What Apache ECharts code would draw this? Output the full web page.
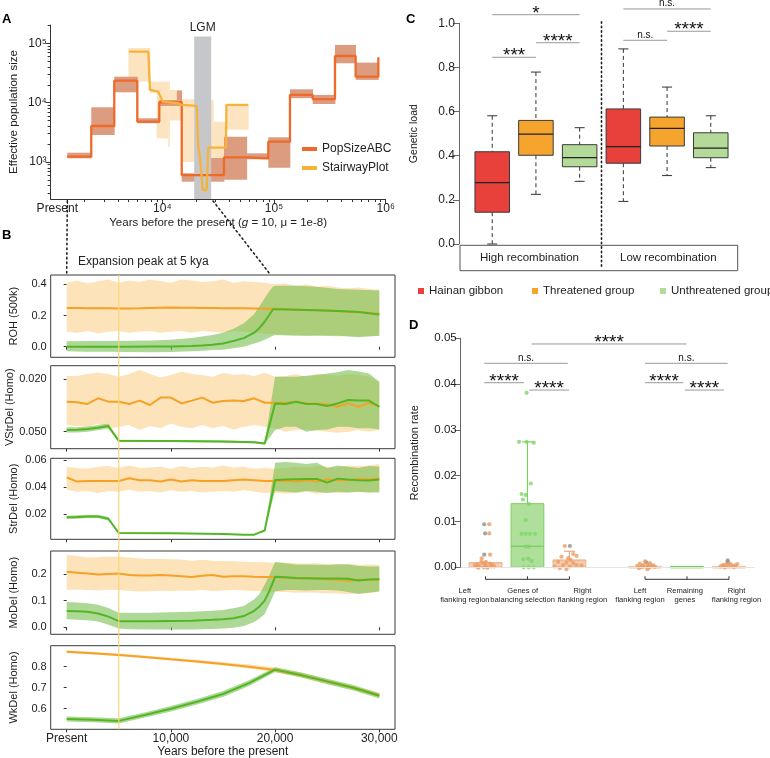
<!DOCTYPE html>
<html><head><meta charset="utf-8">
<script src="https://cdn.jsdelivr.net/npm/echarts@6/dist/echarts.min.js"></script>
<style>html,body{margin:0;padding:0;background:#fff}#c{width:770px;height:758px}</style>
</head><body><div id="c"></div><script>
const FONT = "'Liberation Sans', Arial, Helvetica, sans-serif";
const L = Math.log10;

// ================= Panel A data =================
const popBounds = [1411, 2312, 3715, 5973, 9400, 14920, 35650, 57000, 88900, 139000, 222000, 351600, 538000, 859000];
const popValues = [1228, 4047, 23500, 4790, 10160, 603, 1200, 1150, 2200, 13500, 11500, 61200, 27400];
const popEndValue = 58000;
const popBandStart = [1411, 2312, 3715, 5973, 9400, 13500, 14920, 23000, 35650, 57000, 88900, 139000, 222000, 351600, 538000];
const popBandEnd   = [2312, 3715, 5973, 9400, 13500, 14920, 23000, 35650, 57000, 88900, 139000, 222000, 351600, 538000, 859000];
const popBandLow   = [1154, 2850, 14960, 4500, 8790, 8790, 466, 466, 500, 1110, 800, 11900, 9500, 46100, 24200];
const popBandHigh  = [1435, 8360, 27400, 5460, 11100, 16000, 646, 1170, 2670, 1400, 2610, 16800, 13500, 94000, 47300];

const stairYears = [5035, 7500, 7760, 9210, 10080, 13900, 14920, 20330, 21000, 21700, 23000, 24950, 25800, 37150, 37500, 58900];
const stairNe    = [72500, 72500, 16370, 15350, 10400, 9780, 9150, 8800, 1811, 1228, 337, 337, 1741, 1741, 9150, 9150];
const stairBandStart = [4970, 7760, 8900, 11300, 11600, 14920, 20330, 28600, 37500];
const stairBandEnd   = [7760, 8900, 11300, 11600, 14920, 20330, 28600, 37500, 58900];
const stairBandLow   = [22600, 14500, 2500, 1810, 5000, 1000, 950, 960, 3500];
const stairBandHigh  = [83600, 22600, 22600, 22600, 16370, 11400, 10950, 4780, 9150];

const lgmRange = [19300, 27400];
const lgmTop = 130000;
const aXTicks = [1411, 1e4, 1e5, 1e6];
const aXMinor = [2000,3000,4000,5000,6000,7000,8000,9000,20000,30000,40000,50000,60000,70000,80000,90000,200000,300000,400000,500000,600000,700000,800000,900000];
const aYTicks = [1e3, 1e4, 1e5];
const aYMinor = [300,400,500,600,700,800,900,2000,3000,4000,5000,6000,7000,8000,9000,20000,30000,40000,50000,60000,70000,80000,90000,200000];

// ================= Panel B data =================
const bYears = [0,1000,2000,3000,4000,5000,6000,7000,8000,9000,10000,11000,12000,13000,14000,15000,16000,17000,18000,19000,20000,21000,22000,23000,24000,25000,26000,27000,28000,29000,30000];
const expansionPeak = 5000;

const rohOrange = [0.248,0.248,0.247,0.246,0.246,0.245,0.245,0.246,0.248,0.25,0.252,0.25,0.249,0.248,0.248,0.247,0.247,0.246,0.245,0.244,0.243,0.241,0.239,0.236,0.234,0.232,0.229,0.226,0.222,0.217,0.212];
const rohOrangeHi = [0.41,0.425,0.405,0.42,0.43,0.41,0.425,0.415,0.43,0.42,0.41,0.43,0.425,0.415,0.42,0.43,0.41,0.42,0.415,0.41,0.40,0.405,0.39,0.40,0.385,0.39,0.38,0.375,0.38,0.37,0.365];
const rohOrangeLo = [0.095,0.09,0.1,0.085,0.095,0.1,0.09,0.095,0.1,0.09,0.095,0.1,0.09,0.1,0.095,0.09,0.1,0.095,0.09,0.085,0.08,0.075,0.08,0.07,0.075,0.07,0.065,0.07,0.065,0.07,0.068];
const rohGreenYears = [0,2000,4000,6000,8000,10000,12000,13000,14000,15000,16000,17000,18000,18500,19000,19500,19800,20000,22000,24000,26000,28000,30000];
const rohGreen   = [0.0,0.0,0.0,0.0,0.001,0.002,0.004,0.008,0.013,0.021,0.036,0.055,0.09,0.12,0.16,0.21,0.24,0.24,0.237,0.234,0.229,0.222,0.207];
const rohGreenHi = [0.035,0.036,0.037,0.038,0.04,0.045,0.055,0.065,0.075,0.09,0.115,0.15,0.21,0.26,0.31,0.36,0.385,0.39,0.39,0.385,0.37,0.365,0.36];
const rohGreenLo = [-0.03,-0.032,-0.033,-0.034,-0.035,-0.034,-0.03,-0.026,-0.022,-0.02,-0.01,0.0,0.02,0.03,0.045,0.06,0.07,0.075,0.07,0.07,0.07,0.06,0.07];

const vsOrange = [0.0329,0.0333,0.0342,0.0310,0.0329,0.0329,0.0342,0.0323,0.0348,0.0306,0.0306,0.0339,0.0323,0.0306,0.0335,0.0325,0.0323,0.0325,0.0310,0.0335,0.0335,0.0335,0.0329,0.0339,0.0339,0.0344,0.0358,0.0339,0.0358,0.0335,0.0354];
const vsOrangeHi = [0.0183,0.0183,0.0172,0.0164,0.0172,0.0187,0.0172,0.0149,0.0172,0.0191,0.0177,0.0158,0.0172,0.0177,0.0187,0.0164,0.0177,0.0172,0.0183,0.0164,0.0187,0.0183,0.0172,0.0187,0.0168,0.0177,0.0183,0.0172,0.0177,0.0187,0.0215];
const vsOrangeLo = [0.0462,0.0468,0.0472,0.0453,0.0481,0.0472,0.0462,0.0491,0.0468,0.0481,0.0453,0.0472,0.0481,0.0462,0.0481,0.0468,0.0487,0.0472,0.0462,0.0472,0.0481,0.0500,0.0491,0.0487,0.0495,0.0500,0.0506,0.0500,0.0491,0.0500,0.0491];
const vsGreenYears = [0,1000,2000,3000,4000,5000,10000,15000,18000,19000,20000,21000,22000,23000,24000,25000,26000,27000,28000,29000,30000];
const vsGreen   = [0.0490,0.0489,0.0485,0.0477,0.0468,0.0552,0.0553,0.0556,0.0560,0.0567,0.0339,0.0342,0.0329,0.0342,0.0342,0.0354,0.0339,0.0320,0.0323,0.0323,0.0358];
const vsGreenHi = [0.0475,0.0474,0.0470,0.0462,0.0455,0.0546,0.0547,0.0550,0.0554,0.0561,0.0187,0.0187,0.0187,0.0181,0.0177,0.0168,0.0162,0.0149,0.0158,0.0168,0.0215];
const vsGreenLo = [0.0505,0.0504,0.0500,0.0492,0.0482,0.0558,0.0559,0.0562,0.0566,0.0573,0.0491,0.0472,0.0472,0.0500,0.0491,0.0487,0.0472,0.0472,0.0481,0.0481,0.0487];

const sdOrange = [0.047,0.044,0.0445,0.0445,0.0445,0.0445,0.0465,0.045,0.045,0.044,0.0455,0.044,0.045,0.0445,0.0445,0.0445,0.045,0.0455,0.045,0.0445,0.0445,0.0445,0.044,0.045,0.044,0.0455,0.045,0.045,0.046,0.0455,0.0465];
const sdOrangeHi = [0.055,0.054,0.0535,0.055,0.0555,0.054,0.056,0.054,0.0545,0.055,0.0535,0.0555,0.054,0.055,0.0545,0.056,0.0545,0.055,0.0535,0.054,0.0535,0.054,0.055,0.0545,0.0555,0.055,0.0545,0.056,0.0555,0.056,0.057];
const sdOrangeLo = [0.038,0.0365,0.037,0.0355,0.037,0.0365,0.038,0.0365,0.037,0.036,0.0375,0.0365,0.037,0.036,0.0365,0.037,0.0365,0.0375,0.0365,0.0355,0.036,0.035,0.0355,0.0365,0.035,0.036,0.0355,0.036,0.0365,0.036,0.037];
const sdGreenYears = [0,1000,2000,3000,4000,5000,10000,15000,17000,18000,19000,20000,21000,22000,23000,24000,25000,26000,27000,28000,29000,30000];
const sdGreen   = [0.0175,0.0177,0.0182,0.0182,0.0165,0.0059,0.0058,0.0052,0.0047,0.0047,0.0078,0.0452,0.0455,0.0458,0.046,0.046,0.0432,0.0462,0.0455,0.045,0.0448,0.0455];
const sdGreenHi = [0.0187,0.019,0.0195,0.0195,0.0178,0.0062,0.0061,0.0055,0.005,0.005,0.0081,0.058,0.0585,0.058,0.057,0.058,0.054,0.056,0.055,0.054,0.0555,0.055];
const sdGreenLo = [0.0163,0.0165,0.017,0.017,0.0152,0.0056,0.0055,0.0049,0.0044,0.0044,0.0075,0.037,0.0365,0.036,0.037,0.0365,0.0355,0.0365,0.036,0.0365,0.036,0.036];

const mdOrange = [0.208,0.205,0.202,0.198,0.2,0.202,0.196,0.194,0.194,0.196,0.194,0.192,0.189,0.193,0.196,0.19,0.192,0.192,0.19,0.189,0.189,0.186,0.184,0.183,0.183,0.18,0.178,0.175,0.178,0.178,0.178];
const mdOrangeHi = [0.271,0.268,0.262,0.263,0.266,0.265,0.262,0.258,0.256,0.257,0.255,0.254,0.25,0.253,0.25,0.249,0.248,0.246,0.245,0.244,0.242,0.243,0.24,0.238,0.24,0.237,0.236,0.238,0.235,0.236,0.235];
const mdOrangeLo = [0.14,0.142,0.14,0.138,0.141,0.14,0.136,0.134,0.135,0.137,0.136,0.138,0.137,0.14,0.136,0.138,0.14,0.138,0.136,0.135,0.133,0.132,0.13,0.131,0.13,0.128,0.127,0.125,0.128,0.13,0.132];
const mdGreenYears = [0,1000,2000,3000,4000,5000,6000,8000,10000,12000,14000,15000,16000,17000,18000,18500,19000,19500,20000,21000,22000,23000,24000,25000,26000,27000,28000,29000,30000];
const mdGreen   = [0.061,0.06,0.058,0.052,0.04,0.023,0.023,0.023,0.024,0.025,0.028,0.03,0.034,0.042,0.062,0.078,0.1,0.14,0.19,0.188,0.185,0.184,0.183,0.183,0.183,0.182,0.176,0.179,0.18];
const mdGreenHi = [0.095,0.093,0.09,0.085,0.072,0.055,0.055,0.055,0.056,0.058,0.062,0.065,0.071,0.08,0.105,0.125,0.16,0.2,0.245,0.24,0.235,0.236,0.235,0.234,0.237,0.236,0.23,0.228,0.228];
const mdGreenLo = [0.03,0.028,0.026,0.022,0.01,-0.005,-0.007,-0.008,-0.008,-0.008,-0.006,-0.005,-0.002,0.005,0.02,0.033,0.05,0.09,0.135,0.14,0.14,0.138,0.14,0.14,0.138,0.132,0.125,0.13,0.135];

const wkYears = [0,2500,5000,7500,10000,12500,15000,17500,20000,22500,25000,27500,30000];
const wkOrange   = [0.871,0.864,0.856,0.846,0.835,0.825,0.813,0.8,0.784,0.759,0.729,0.7,0.665];
const wkOrangeHi = [0.878,0.871,0.863,0.853,0.843,0.833,0.822,0.81,0.797,0.772,0.74,0.709,0.672];
const wkOrangeLo = [0.865,0.858,0.85,0.84,0.829,0.818,0.806,0.792,0.774,0.75,0.72,0.69,0.656];
const wkGreen   = [0.551,0.547,0.542,0.57,0.60,0.633,0.67,0.722,0.786,0.76,0.73,0.70,0.662];
const wkGreenHi = [0.563,0.559,0.554,0.582,0.613,0.646,0.684,0.736,0.797,0.772,0.743,0.713,0.675];
const wkGreenLo = [0.539,0.535,0.53,0.558,0.587,0.62,0.656,0.708,0.775,0.748,0.717,0.687,0.649];

// ================= Panel C data =================
const cGroups = ['Hainan gibbon', 'Threatened group', 'Unthreatened group'];
const cCategories = ['High recombination', 'Low recombination'];
const cPos = [1, 2, 3, 4, 5, 6];
const cGroupOf = [0, 1, 2, 0, 1, 2];
const cMin = [0.0, 0.225, 0.284, 0.193, 0.31, 0.346];
const cQ1  = [0.144, 0.402, 0.35, 0.366, 0.444, 0.391];
const cMed = [0.278, 0.498, 0.391, 0.441, 0.524, 0.434];
const cQ3  = [0.418, 0.56, 0.45, 0.612, 0.575, 0.504];
const cMax = [0.581, 0.779, 0.527, 0.884, 0.711, 0.581];
const cSeparator = 3.5;
const cBrX1 = [1, 2, 1, 4, 5, 4];
const cBrX2 = [2, 3, 3, 5, 6, 6];
const cBrY  = [0.846, 0.912, 1.039, 0.923, 0.964, 1.065];
const cBrLabel = ['***', '****', '*', 'n.s.', '****', 'n.s.'];

// ================= Panel D data =================
const dLabels = ['Left\nflanking region', 'Genes of\nbalancing selection', 'Right\nflanking region', 'Left\nflanking region', 'Remaining\ngenes', 'Right\nflanking region'];
const dPos  = [1, 2, 3, 4.8, 5.8, 6.8];
const dKind = [0, 1, 0, 0, 1, 0];
const dLow  = [0, 0, 0, 0, 0, 0];
const dQ1   = [0, 0, 0, 0, 0, 0];
const dMed  = [0.0004, 0.0046, 0.0007, 0.0001, 0.0001, 0.0001];
const dQ3   = [0.001, 0.0139, 0.0016, 0.0002, 0.0002, 0.0002];
const dHigh = [0.001, 0.0274, 0.0035, 0.0002, 0.0002, 0.0002];
const dGroupLines = [[1, 3], [4.8, 6.8]];
const dOrangePts = [[1.09,0.0094],[1.09,0.0074],[1.11,0.00275],[0.91,0.00196],[0.9,0.0012],[0.75,0.00044],[0.81,0.0007],[0.86,0.0002],[0.94,0.00096],[0.99,0.0006],[1.03,0.0002],[1.11,0.0008],[1.17,0.0005],[1.21,0.0002],[0.83,-0.0001],[0.96,0.0],[1.05,-0.0001],[1.14,0.0002],[0.78,0.0002],[1.01,0.0012],
  [2.89,0.00465],[3.09,0.0029],[3.17,0.0025],[2.81,0.0023],[2.97,0.002],[3.03,0.0016],[2.73,0.0012],[2.93,0.001],[3.09,0.0009],[2.85,0.0005],[2.65,0.0002],[3.01,0.0002],[3.17,0.0005],[2.93,-0.0004],[3.29,0.0004],[2.77,-0.0002],
  [4.62,0.0003],[4.68,0.0008],[4.72,0.0001],[4.76,0.0005],[4.8,0.0013],[4.84,0.0002],[4.88,0.0006],[4.92,0.0009],[4.96,0.0003],[5.0,0.0004],[4.66,-0.0002],[4.86,-0.0004],[4.74,0.0002],[4.9,0.0],[5.04,0.0001],
  [6.6,0.0002],[6.65,0.0004],[6.7,0.0],[6.74,0.0006],[6.78,0.0003],[6.82,0.0008],[6.86,0.0005],[6.9,0.0002],[6.95,0.0004],[7.0,0.0007],[6.68,0.0005],[6.92,0.0001]];
const dGrayPts = [[0.97,0.0094],[0.99,0.0074],[0.97,0.00275],[3.01,0.00465],[4.83,0.0011],[6.77,0.0015],[6.77,0.0011]];
const dGreenPts = [[1.98,0.0381],[1.8,0.0274],[2.15,0.0272],[1.98,0.0274],[2.08,0.0183],[1.86,0.016],[1.96,0.0158],[1.89,0.0148],[2.04,0.0138],[1.96,0.0103],[1.86,0.0073],[1.96,0.0073],[2.06,0.0073],[2.18,0.0073],[1.96,0.0045],[2.03,0.0045],[1.9,0.00175],[2.02,0.0019],[2.1,0.0014],[1.91,0.0],[2.03,0.0],[2.15,0.0]];
const dBrX1 = [2.1, 0.97, 0.97, 2.04, 4.8, 4.8, 5.75];
const dBrX2 = [5.79, 2.96, 1.92, 2.99, 6.77, 5.71, 6.68];
const dBrY  = [0.04876, 0.04454, 0.0403, 0.0387, 0.04454, 0.0403, 0.0387];
const dBrLabel = ['****', 'n.s.', '****', '****', 'n.s.', '****', '****'];

// ================= layout & styles =================
const layoutDLabelX = [0.51, 1.886, 3.31, 4.68, 5.75, 6.98];
const layoutCLegendLeft = [413, 527, 655];
const COL = {
  pop: '#EE6A2A', popBand: '#DC9C80', stair: '#F7B23A', stairBand: '#FDE4C1', lgm: '#C6C7CB',
  orange: '#F5A126', orangeBand: '#FDE3B9', green: '#52B625', greenBand: 'rgba(118,190,78,0.6)',
  cCols: ['#E8413B', '#F5A52E', '#B3DA99'],
  dOrange: '#EE9C62', dGray: '#8E8E8E', dGreen: '#7FD468'
};
const GA = {left: 50.6, top: 25, width: 335.1, height: 174};
const GB_LEFT = 50.7, GB_WIDTH = 344.3;
const GB = [{top: 275, height: 82.3}, {top: 365.7, height: 83}, {top: 458.3, height: 81}, {top: 551, height: 83.3}, {top: 645.7, height: 83.6}];
const GC = {left: 459, top: 23.3, width: 278.7, height: 220.7};
const GC2 = {left: 460, top: 245.3, width: 277.7, height: 25.4};
const GD = {left: 460.7, top: 338.3, width: 294.3, height: 229};

const sup = {3: '10\u00B3', 4: '10\u2074', 5: '10\u2075', 6: '10\u2076'};
const tsty = (size, color) => ({fontFamily: FONT, fontSize: size, color: color || '#222'});

const grids = [];
const xAxes = [];
const yAxes = [];
const series = [];

// ---- Grid A ----
grids.push(Object.assign({outerBoundsMode: 'none', containLabel: false}, GA));
xAxes.push({type: 'value', gridIndex: 0, position: 'bottom', min: 3, max: 6,
  axisLine: {show: true, lineStyle: {color: '#333', width: 1}},
  axisTick: {show: true, length: 5, customValues: aXTicks.map(L), lineStyle: {color: '#333'}},
  axisLabel: {show: true, customValues: aXTicks.map(L), margin: 4, ...tsty(12),
    rich: {p: {fontFamily: FONT, fontSize: 12, color: '#222', padding: [0, 20, 0, 0]}},
    formatter: v => (Math.abs(v - Math.round(v)) < 1e-6 ? sup[Math.round(v)] : '{p|Present}')},
  splitLine: {show: false},
  name: 'Years before the present ({i|g} = 10, \u03BC = 1e-8)', nameLocation: 'middle', nameGap: 18,
  nameTextStyle: {...tsty(11.5), rich: {i: {fontStyle: 'italic', fontFamily: FONT, fontSize: 11.5, color: '#222'}}}});
xAxes.push({type: 'value', gridIndex: 0, position: 'bottom', offset: 0, min: 3, max: 6, axisLine: {show: false},
  axisTick: {show: true, length: 3, customValues: aXMinor.map(L), lineStyle: {color: '#333'}},
  axisLabel: {show: false}, splitLine: {show: false}});
yAxes.push({type: 'value', gridIndex: 0, position: 'left', min: L(238), max: L(203600),
  axisLine: {show: true, lineStyle: {color: '#333', width: 1}},
  axisTick: {show: true, length: 5, customValues: aYTicks.map(L), lineStyle: {color: '#333'}},
  axisLabel: {show: true, customValues: aYTicks.map(L), margin: 4, ...tsty(12), formatter: v => sup[Math.round(v)]},
  splitLine: {show: false},
  name: 'Effective population size', nameLocation: 'middle', nameGap: 31, nameTextStyle: tsty(11.5)});
yAxes.push({type: 'value', gridIndex: 0, position: 'left', offset: 0, min: L(238), max: L(203600), axisLine: {show: false},
  axisTick: {show: true, length: 3, customValues: aYMinor.map(L), lineStyle: {color: '#333'}},
  axisLabel: {show: false}, splitLine: {show: false}});

function stepBand(name, starts, ends, lows, highs, fill, z) {
  return {type: 'custom', name, xAxisIndex: 0, yAxisIndex: 0, z, silent: true,
    encode: {x: [0, 1], y: [2, 3]},
    data: starts.map((s, i) => [L(s), L(ends[i]), L(lows[i]), L(highs[i])]),
    renderItem(params, api) {
      const p0 = api.coord([api.value(0), api.value(3)]);
      const p1 = api.coord([api.value(1), api.value(2)]);
      return {type: 'rect', shape: {x: p0[0], y: p0[1], width: p1[0] - p0[0] + 0.4, height: p1[1] - p0[1]}, style: {fill}};
    }};
}
series.push(stepBand('stairBand', stairBandStart, stairBandEnd, stairBandLow, stairBandHigh, COL.stairBand, 1));
series.push(stepBand('popBand', popBandStart, popBandEnd, popBandLow, popBandHigh, COL.popBand, 2));
series.push({type: 'custom', xAxisIndex: 0, yAxisIndex: 0, z: 3, silent: true,
  data: [[L(lgmRange[0]), L(lgmRange[1]), L(lgmTop)]], encode: {x: [0, 1], y: 2},
  renderItem(params, api) {
    const p0 = api.coord([api.value(0), api.value(2)]);
    const p1 = api.coord([api.value(1), L(238)]);
    return {type: 'group', children: [
      {type: 'rect', shape: {x: p0[0], y: p0[1], width: p1[0] - p0[0], height: p1[1] - p0[1]}, style: {fill: COL.lgm}},
      {type: 'text', x: (p0[0] + p1[0]) / 2, y: p0[1] - 3, style: {text: 'LGM', fill: '#222', fontFamily: FONT, fontSize: 12, align: 'center', verticalAlign: 'bottom'}}
    ]};
  }});
const popLine = popBounds.map((b, i) => [L(b), L(i < popValues.length ? popValues[i] : popEndValue)]);
series.push({type: 'line', name: 'PopSizeABC', xAxisIndex: 0, yAxisIndex: 0, z: 4, step: 'end', showSymbol: false, symbol: 'none',
  data: popLine, lineStyle: {color: COL.pop, width: 2.3}, itemStyle: {color: COL.pop}, silent: true});
series.push({type: 'line', name: 'StairwayPlot', xAxisIndex: 0, yAxisIndex: 0, z: 5, showSymbol: false, symbol: 'none',
  data: stairYears.map((y, i) => [L(y), L(stairNe[i])]), lineStyle: {color: COL.stair, width: 2.3}, itemStyle: {color: COL.stair}, silent: true});

// ---- Grids B ----
const bPanels = [
  {name: 'ROH (500k)', min: -0.068, max: 0.4596, ticks: [0, 0.2, 0.4], dec: 1, inv: false,
   oX: bYears, o: rohOrange, oHi: rohOrangeHi, oLo: rohOrangeLo, gX: rohGreenYears, g: rohGreen, gHi: rohGreenHi, gLo: rohGreenLo},
  {name: 'VStrDel (Homo)', min: 0.01243, max: 0.05968, ticks: [0.02, 0.05], dec: 3, inv: true,
   oX: bYears, o: vsOrange, oHi: vsOrangeHi, oLo: vsOrangeLo, gX: vsGreenYears, g: vsGreen, gHi: vsGreenHi, gLo: vsGreenLo},
  {name: 'StrDel (Homo)', min: 0.00125, max: 0.06126, ticks: [0.02, 0.04, 0.06], dec: 2, inv: false,
   oX: bYears, o: sdOrange, oHi: sdOrangeHi, oLo: sdOrangeLo, gX: sdGreenYears, g: sdGreen, gHi: sdGreenHi, gLo: sdGreenLo},
  {name: 'MoDel (Homo)', min: -0.0263, max: 0.2863, ticks: [0, 0.1, 0.2], dec: 1, inv: false,
   oX: bYears, o: mdOrange, oHi: mdOrangeHi, oLo: mdOrangeLo, gX: mdGreenYears, g: mdGreen, gHi: mdGreenHi, gLo: mdGreenLo},
  {name: 'WkDel (Homo)', min: 0.5019, max: 0.9, ticks: [0.6, 0.7, 0.8], dec: 1, inv: false,
   oX: wkYears, o: wkOrange, oHi: wkOrangeHi, oLo: wkOrangeLo, gX: wkYears, g: wkGreen, gHi: wkGreenHi, gLo: wkGreenLo}
];
const bXTicks = [0, 10000, 20000, 30000];
function polyBand(xi, yi, xs, lo, hi, fill, z) {
  return {type: 'custom', xAxisIndex: xi, yAxisIndex: yi, z, silent: true, clip: true,
    data: [[xs[0], lo[0]]],
    renderItem(params, api) {
      const pts = [];
      for (let i = 0; i < xs.length; i++) pts.push(api.coord([xs[i], hi[i]]));
      for (let i = xs.length - 1; i >= 0; i--) pts.push(api.coord([xs[i], lo[i]]));
      return {type: 'polygon', shape: {points: pts}, style: {fill}};
    }};
}
bPanels.forEach((p, k) => {
  const gi = grids.length;
  grids.push({left: GB_LEFT, width: GB_WIDTH, top: GB[k].top, height: GB[k].height, show: true, borderColor: '#3a3a3a', borderWidth: 1,
    backgroundColor: 'transparent', outerBoundsMode: 'none', containLabel: false});
  const last = k === bPanels.length - 1;
  const xi = xAxes.length, yi = yAxes.length;
  xAxes.push({type: 'value', gridIndex: gi, position: 'bottom', min: -1535, max: 31507, axisLine: {show: false},
    axisTick: {show: true, length: 3, customValues: bXTicks, lineStyle: {color: '#333'}},
    axisLabel: {show: last, customValues: bXTicks, margin: 3, ...tsty(12),
      formatter: v => (v === 0 ? 'Present' : v.toLocaleString('en-US'))},
    splitLine: {show: false},
    name: last ? 'Years before the present' : '', nameLocation: 'middle', nameGap: 15, nameTextStyle: tsty(12)});
  yAxes.push({type: 'value', gridIndex: gi, position: 'left', min: p.min, max: p.max, inverse: p.inv, axisLine: {show: false},
    axisTick: {show: true, length: 3, customValues: p.ticks, lineStyle: {color: '#333'}},
    axisLabel: {show: true, customValues: p.ticks, margin: 4, ...tsty(11), formatter: v => v.toFixed(p.dec)},
    splitLine: {show: false},
    name: p.name, nameLocation: 'middle', nameGap: 31, nameTextStyle: tsty(11)});
  series.push(polyBand(xi, yi, p.oX, p.oLo, p.oHi, COL.orangeBand, 1));
  series.push(polyBand(xi, yi, p.gX, p.gLo, p.gHi, COL.greenBand, 2));
  series.push({type: 'line', xAxisIndex: xi, yAxisIndex: yi, z: 3, showSymbol: false, symbol: 'none', silent: true,
    data: p.oX.map((x, i) => [x, p.o[i]]), lineStyle: {color: COL.orange, width: 2}, itemStyle: {color: COL.orange}});
  series.push({type: 'line', xAxisIndex: xi, yAxisIndex: yi, z: 4, showSymbol: false, symbol: 'none', silent: true,
    data: p.gX.map((x, i) => [x, p.g[i]]), lineStyle: {color: COL.green, width: 2}, itemStyle: {color: COL.green}});
});

// ---- Grid C ----
const gC = grids.length;
grids.push(Object.assign({outerBoundsMode: 'none', containLabel: false}, GC));
const xC = xAxes.length, yC = yAxes.length;
xAxes.push({type: 'value', gridIndex: gC, min: 0.24, max: 6.616, show: false});
yAxes.push({type: 'value', gridIndex: gC, position: 'left', min: 0, max: 1, interval: 0.2,
  axisLine: {show: true, lineStyle: {color: '#666', width: 1}},
  axisTick: {show: true, length: 6, lineStyle: {color: '#666'}},
  axisLabel: {show: true, margin: 4, ...tsty(12), formatter: v => v.toFixed(1)},
  splitLine: {show: false},
  name: 'Genetic load', nameLocation: 'middle', nameGap: 39, nameTextStyle: tsty(10.5)});
const BOXW_C = 0.79;
cGroups.forEach((gname, g) => {
  const idx = cPos.map((_, i) => i).filter(i => cGroupOf[i] === g);
  series.push({type: 'custom', name: gname, xAxisIndex: xC, yAxisIndex: yC, z: 3, silent: true,
    itemStyle: {color: COL.cCols[g]},
    encode: {x: 0, y: [1, 2, 3, 4, 5]},
    data: idx.map(i => [cPos[i], cMin[i], cQ1[i], cMed[i], cQ3[i], cMax[i]]),
    renderItem(params, api) {
      const x = api.value(0);
      const pMin = api.coord([x, api.value(1)]), pQ1 = api.coord([x, api.value(2)]), pMd = api.coord([x, api.value(3)]);
      const pQ3 = api.coord([x, api.value(4)]), pMax = api.coord([x, api.value(5)]);
      const w = api.size([BOXW_C, 0])[0], cx = pMin[0], cap = 5;
      const st = {stroke: '#333', lineWidth: 1};
      return {type: 'group', children: [
        {type: 'line', shape: {x1: cx, y1: pMax[1], x2: cx, y2: pQ3[1]}, style: {...st, lineDash: [4, 3]}},
        {type: 'line', shape: {x1: cx, y1: pQ1[1], x2: cx, y2: pMin[1]}, style: {...st, lineDash: [4, 3]}},
        {type: 'line', shape: {x1: cx - cap, y1: pMax[1], x2: cx + cap, y2: pMax[1]}, style: st},
        {type: 'line', shape: {x1: cx - cap, y1: pMin[1], x2: cx + cap, y2: pMin[1]}, style: st},
        {type: 'rect', shape: {x: cx - w / 2, y: pQ3[1], width: w, height: pQ1[1] - pQ3[1]}, style: {fill: COL.cCols[g], stroke: '#3a3a3a', lineWidth: 1}},
        {type: 'line', shape: {x1: cx - w / 2, y1: pMd[1], x2: cx + w / 2, y2: pMd[1]}, style: {stroke: '#222', lineWidth: 1.2}}
      ]};
    }});
});
function bracketSeries(xi, yi, x1s, x2s, ys, labels) {
  return {type: 'custom', xAxisIndex: xi, yAxisIndex: yi, z: 5, silent: true, clip: false,
    encode: {x: [0, 1], y: 2},
    data: x1s.map((x, i) => [x, x2s[i], ys[i]]),
    renderItem(params, api) {
      const p1 = api.coord([api.value(0), api.value(2)]), p2 = api.coord([api.value(1), api.value(2)]);
      const lab = labels[params.dataIndex];
      const star = lab.indexOf('*') >= 0;
      return {type: 'group', children: [
        {type: 'line', shape: {x1: p1[0], y1: p1[1], x2: p2[0], y2: p1[1]}, style: {stroke: '#999', lineWidth: 1}},
        {type: 'text', x: (p1[0] + p2[0]) / 2, y: star ? p1[1] - 1.3 : p1[1] - 0.5,
          style: {text: lab, fill: '#111', fontFamily: FONT, fontSize: star ? 19 : 10, align: 'center', verticalAlign: star ? 'middle' : 'bottom'}}
      ]};
    }};
}
series.push(bracketSeries(xC, yC, cBrX1, cBrX2, cBrY, cBrLabel));

// ---- Grid C2 (category frame) ----
const gC2 = grids.length;
grids.push(Object.assign({show: true, borderColor: '#555', borderWidth: 1, outerBoundsMode: 'none', containLabel: false}, GC2));
xAxes.push({type: 'category', gridIndex: gC2, data: cCategories, position: 'top', axisLine: {show: false}, axisTick: {show: false},
  axisLabel: {inside: true, margin: 7, ...tsty(11.5)}});
yAxes.push({type: 'value', gridIndex: gC2, show: false});

// ---- Grid D ----
const gD = grids.length;
grids.push(Object.assign({outerBoundsMode: 'none', containLabel: false}, GD));
const xD = xAxes.length, yD = yAxes.length;
xAxes.push({type: 'value', gridIndex: gD, min: 0.41, max: 7.42, show: false});
yAxes.push({type: 'value', gridIndex: gD, position: 'left', min: 0, max: 0.05, interval: 0.01,
  axisLine: {show: true, lineStyle: {color: '#666', width: 1}},
  axisTick: {show: true, length: 6, lineStyle: {color: '#666'}},
  axisLabel: {show: true, margin: 4, ...tsty(11.5), formatter: v => v.toFixed(2)},
  splitLine: {show: false},
  name: 'Recombination rate', nameLocation: 'middle', nameGap: 40, nameTextStyle: tsty(11)});
const BOXW_D = 0.78;
const dFill = ['rgba(238,160,108,0.55)', 'rgba(125,205,95,0.62)'];
const dStroke = ['#ECA97C', '#7ED05E'];
series.push({type: 'custom', xAxisIndex: xD, yAxisIndex: yD, z: 2, silent: true, clip: false,
  encode: {x: 0, y: [1, 2, 3, 4, 5]},
  data: dPos.map((x, i) => [x, dLow[i], dQ1[i], dMed[i], dQ3[i], dHigh[i]]),
  markLine: {silent: true, symbol: 'none', label: {show: false}, lineStyle: {color: '#e4e4e4', width: 1, type: 'solid'}, data: [{yAxis: 0}]},
  renderItem(params, api) {
    const k = dKind[params.dataIndex];
    const x = api.value(0);
    const pQ1 = api.coord([x, api.value(2)]), pMd = api.coord([x, api.value(3)]);
    const pQ3 = api.coord([x, api.value(4)]), pMax = api.coord([x, api.value(5)]);
    const w = api.size([BOXW_D, 0])[0], cx = pQ1[0], cap = 5.5;
    const ch = [
      {type: 'rect', shape: {x: cx - w / 2, y: pQ3[1], width: w, height: Math.max(pQ1[1] - pQ3[1], 1.5)}, style: {fill: dFill[k], stroke: dStroke[k], lineWidth: 1}},
      {type: 'line', shape: {x1: cx - w / 2, y1: pMd[1], x2: cx + w / 2, y2: pMd[1]}, style: {stroke: k ? '#6cc64c' : '#f6d5bb', lineWidth: 1}}
    ];
    if (pMax[1] < pQ3[1] - 1) {
      ch.push({type: 'line', shape: {x1: cx, y1: pMax[1], x2: cx, y2: pQ3[1]}, style: {stroke: dStroke[k], lineWidth: 1.2}});
      ch.push({type: 'line', shape: {x1: cx - cap, y1: pMax[1], x2: cx + cap, y2: pMax[1]}, style: {stroke: dStroke[k], lineWidth: 1.2}});
    }
    return {type: 'group', children: ch};
  }});
series.push({type: 'scatter', xAxisIndex: xD, yAxisIndex: yD, z: 3, silent: true, clip: false, symbolSize: 4.2,
  itemStyle: {color: COL.dGray}, data: dGrayPts});
series.push({type: 'scatter', xAxisIndex: xD, yAxisIndex: yD, z: 4, silent: true, clip: false, symbolSize: 4.2,
  itemStyle: {color: COL.dOrange}, data: dOrangePts});
series.push({type: 'scatter', xAxisIndex: xD, yAxisIndex: yD, z: 4, silent: true, clip: false, symbolSize: 4.2,
  itemStyle: {color: COL.dGreen}, data: dGreenPts});
series.push(bracketSeries(xD, yD, dBrX1, dBrX2, dBrY, dBrLabel));
series.push({type: 'custom', xAxisIndex: xD, yAxisIndex: yD, z: 5, silent: true, clip: false,
  encode: {x: [0, 1]},
  data: dGroupLines.map(g => [g[0], g[1]]),
  renderItem(params, api) {
    const a = api.value(0), b = api.value(1);
    const p1 = api.coord([a, 0]), p2 = api.coord([b, 0]), pm = api.coord([(a + b) / 2, 0]);
    const y = p1[1] + 12;
    const st = {stroke: '#333', lineWidth: 1};
    return {type: 'group', children: [
      {type: 'line', shape: {x1: p1[0], y1: y, x2: p2[0], y2: y}, style: st},
      {type: 'line', shape: {x1: p1[0], y1: y, x2: p1[0], y2: y - 3}, style: st},
      {type: 'line', shape: {x1: pm[0], y1: y, x2: pm[0], y2: y - 3}, style: st},
      {type: 'line', shape: {x1: p2[0], y1: y, x2: p2[0], y2: y - 3}, style: st}
    ]};
  }});
series.push({type: 'custom', xAxisIndex: xD, yAxisIndex: yD, z: 5, silent: true, clip: false,
  encode: {x: 0},
  data: layoutDLabelX.map(x => [x]),
  renderItem(params, api) {
    const p = api.coord([api.value(0), 0]);
    return {type: 'text', x: p[0], y: p[1] + 19, style: {text: dLabels[params.dataIndex], fill: '#222', fontFamily: FONT, fontSize: 7.6, lineHeight: 8.8, align: 'center', verticalAlign: 'top'}};
  }});

const legends = [
  {data: [{name: 'PopSizeABC', itemStyle: {color: COL.pop}}, {name: 'StairwayPlot', itemStyle: {color: COL.stair}}],
   orient: 'vertical', left: 297, top: 138, icon: 'rect', itemWidth: 15, itemHeight: 4, itemGap: 7,
   textStyle: tsty(12), selectedMode: false}
];
cGroups.forEach((g, i) => legends.push({data: [g], left: layoutCLegendLeft[i], top: 280, icon: 'rect', itemWidth: 6, itemHeight: 6,
  textStyle: tsty(11.5), selectedMode: false}));

const option = {
  animation: false,
  backgroundColor: '#fff',
  textStyle: {fontFamily: FONT},
  grid: grids, xAxis: xAxes, yAxis: yAxes, series, legend: legends
};
const chart = echarts.init(document.getElementById('c'));
chart.setOption(option);

const xB0 = 2;
const pxA = v => chart.convertToPixel({xAxisIndex: 0}, v);
const pxB = v => chart.convertToPixel({xAxisIndex: xB0}, v);
const pxC = v => chart.convertToPixel({xAxisIndex: xC}, v);
const bTop = GB[0].top, bBottom = GB[4].top + GB[4].height;
const aBottom = GA.top + GA.height;
const yl = pxB(expansionPeak);
const dot = {stroke: '#222', lineWidth: 1.6, lineDash: [1.5, 3.2], lineCap: 'round'};
const letter = (t, x, y) => ({type: 'text', left: x, top: y, style: {text: t, fill: '#000', font: 'bold 13px ' + FONT}});
chart.setOption({graphic: [
  letter('A', 2, 13), letter('B', 2, 229), letter('C', 406, 13), letter('D', 409, 319),
  {type: 'line', shape: {x1: yl, y1: bTop, x2: yl, y2: bBottom}, style: {stroke: '#F7D67A', lineWidth: 1.2}, z: 50},
  {type: 'line', shape: {x1: pxA(L(aXTicks[0])), y1: aBottom + 2, x2: pxB(0), y2: bTop}, style: dot, z: 50},
  {type: 'line', shape: {x1: pxA(L(28500)), y1: aBottom + 2, x2: pxB(19580), y2: bTop}, style: dot, z: 50},
  {type: 'line', shape: {x1: pxC(cSeparator), y1: GC.top - 1.5, x2: pxC(cSeparator), y2: GC2.top + GC2.height - 2}, style: {stroke: '#222', lineWidth: 1.6, lineDash: [1.5, 3], lineCap: 'round'}, z: 50},
  {type: 'text', left: 78, top: 256, style: {text: 'Expansion peak at 5 kya', fill: '#222', font: '12px ' + FONT}}
]});
</script></body></html>
